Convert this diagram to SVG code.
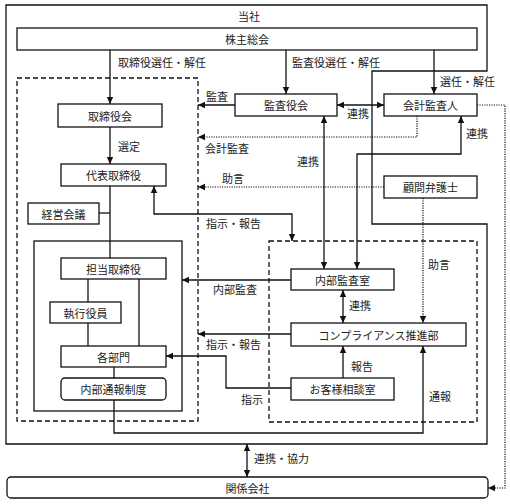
<svg xmlns="http://www.w3.org/2000/svg" width="510" height="504" viewBox="0 0 510 504">
<defs>
<style>
text{font-family:"Noto Sans CJK JP","Liberation Serif",serif;font-size:11px;fill:#222;dominant-baseline:central}
.c{text-anchor:middle}
.box{fill:#fff;stroke:#111;stroke-width:1.3}
.frame{fill:none;stroke:#111;stroke-width:1.3}
.dash{fill:none;stroke:#111;stroke-width:1.3;stroke-dasharray:5 3}
.ln{fill:none;stroke:#111;stroke-width:1.3}
.dot{fill:none;stroke:#111;stroke-width:1.2;stroke-dasharray:1.2 1.2}
.a{marker-end:url(#ah)}
.aa{marker-end:url(#ah);marker-start:url(#ah)}
</style>
<marker id="ah" markerUnits="userSpaceOnUse" markerWidth="8" markerHeight="8" refX="7" refY="4" orient="auto-start-reverse">
<path d="M0,0.8 L7,4 L0,7.2 z" fill="#111"/>
</marker>
</defs>
<rect width="510" height="504" fill="#fff"/>
<g id="frames">
<path class="frame" d="M6,5 H487 V71 H372 V224 H487 V444 H6 Z"/>
<text x="238" y="16">当社</text>
<rect class="dash" x="17" y="78" width="181" height="343"/>
<rect class="frame" x="34" y="241" width="148" height="170"/>
<rect class="dash" x="269" y="241" width="208" height="181"/>
</g>
<g id="connectors">
<path class="ln a" d="M110,50 V104"/>
<path class="ln a" d="M110,127 V164"/>
<path class="ln" d="M110,186 V258"/>
<path class="ln" d="M99,213 H110"/>
<path class="ln" d="M88,279 V302"/>
<path class="ln" d="M88,323 V346"/>
<path class="ln" d="M139,279 V346"/>
<path class="ln" d="M114,367 V378"/>
<path class="ln a" d="M114,400 V433 H423 V346"/>
<path class="ln a" d="M286,50 V94"/>
<path class="ln a" d="M434,50 V94"/>
<path class="ln aa" d="M337,105 H384"/>
<path class="ln a" d="M235,105 H198"/>
<path class="dot a" d="M417,116 V137 H198"/>
<path class="dot a" d="M477,105 H505 V488 H488"/>
<path class="ln aa" d="M324,116 V269"/>
<path class="ln aa" d="M461,116 V154 H357 V269"/>
<path class="dot a" d="M384,187 H198"/>
<path class="dot a" d="M423,198 V323"/>
<path class="ln aa" d="M154,186 V214 H292 V241"/>
<path class="ln a" d="M291,280 H182"/>
<path class="ln aa" d="M343,290 V323"/>
<path class="ln a" d="M291,334 H198"/>
<path class="ln a" d="M343,378 V346"/>
<path class="ln a" d="M291,388 H226 V356 H166"/>
<path class="ln aa" d="M247,444 V477"/>
<text x="118" y="62">取締役選任・解任</text>
<text x="118" y="146">選定</text>
<text x="292" y="62">監査役選任・解任</text>
<text x="440" y="81">選任・解任</text>
<text x="206" y="96">監査</text>
<text x="347" y="113">連携</text>
<text x="205" y="148">会計監査</text>
<text x="466" y="133">連携</text>
<text x="297" y="161">連携</text>
<text x="222" y="178">助言</text>
<text x="206" y="223">指示・報告</text>
<text x="428" y="264">助言</text>
<text x="213" y="289">内部監査</text>
<text x="349" y="305">連携</text>
<text x="206" y="344">指示・報告</text>
<text x="351" y="366">報告</text>
<text x="241" y="399">指示</text>
<text x="429" y="396">通報</text>
<text x="254" y="458">連携・協力</text>
</g>
<g id="kabunushi"><rect class="box" x="17" y="28" width="460" height="22"/><text class="c" x="247" y="39">株主総会</text></g>
<g id="torishimariyakukai"><rect class="box" x="58" y="104" width="104" height="23"/><text class="c" x="110" y="115.5">取締役会</text></g>
<g id="daihyo"><rect class="box" x="61" y="164" width="105" height="22"/><text class="c" x="113.5" y="175">代表取締役</text></g>
<g id="keiei"><rect class="box" x="28" y="203" width="71" height="21"/><text class="c" x="63.5" y="213.5">経営会議</text></g>
<g id="tanto"><rect class="box" x="61" y="258" width="105" height="21"/><text class="c" x="113.5" y="268.5">担当取締役</text></g>
<g id="shikko"><rect class="box" x="50" y="302" width="71" height="21"/><text class="c" x="85.5" y="312.5">執行役員</text></g>
<g id="kakubumon"><rect class="box" x="61" y="346" width="105" height="21"/><text class="c" x="113.5" y="356.5">各部門</text></g>
<g id="naibutsuho"><rect class="box" x="61" y="378" width="105" height="22" rx="4"/><text class="c" x="113.5" y="389">内部通報制度</text></g>
<g id="kansayakukai"><rect class="box" x="235" y="94" width="102" height="22"/><text class="c" x="286" y="105">監査役会</text></g>
<g id="kaikei"><rect class="box" x="384" y="94" width="93" height="22"/><text class="c" x="430.5" y="105">会計監査人</text></g>
<g id="komon"><rect class="box" x="384" y="176" width="93" height="22"/><text class="c" x="430.5" y="187">顧問弁護士</text></g>
<g id="naibukansa"><rect class="box" x="291" y="269" width="103" height="21"/><text class="c" x="342.5" y="279.5">内部監査室</text></g>
<g id="compliance"><rect class="box" x="291" y="323" width="175" height="23"/><text class="c" x="378.5" y="334.5">コンプライアンス推進部</text></g>
<g id="okyakusama"><rect class="box" x="291" y="378" width="103" height="22"/><text class="c" x="342.5" y="389">お客様相談室</text></g>
<g id="kankei"><rect class="box" x="7" y="477" width="481" height="21" rx="4"/><text class="c" x="247.5" y="487.5">関係会社</text></g>
</svg>
